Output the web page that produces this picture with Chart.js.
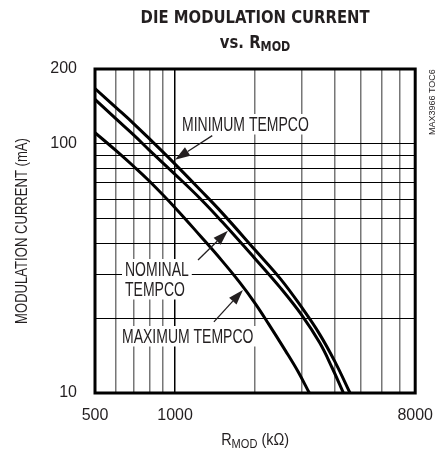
<!DOCTYPE html>
<html>
<head>
<meta charset="utf-8">
<title>Die modulation current vs. RMOD</title>
<script src="https://cdn.jsdelivr.net/npm/chart.js@4.4.0/dist/chart.umd.min.js"></script>
<style>
    html, body { margin: 0; padding: 0; background: #fff; }
    canvas { display: block; }
</style>
</head>
<body>
<canvas id="myChart" width="446" height="457"></canvas>
<script>
// Datos: R_MOD (kOhm) y corriente de modulación (mA)
const rMinimum = [500, 600, 700, 800, 1000, 1250, 1500, 2000, 2500, 3000, 3500, 4000, 4550];
const iMinimum = [167, 140, 120.5, 105, 83, 65, 53, 37.5, 28.6, 22, 17.2, 13.3, 10];

const rNominal = [500, 600, 700, 800, 1000, 1250, 1500, 2000, 2500, 3000, 3500, 3900, 4300];
const iNominal = [151, 126, 108.5, 94.5, 75.5, 60, 48.8, 34.6, 26.3, 20.5, 15.9, 12.6, 10];

const rMaximum = [500, 600, 700, 800, 1000, 1250, 1500, 1750, 2000, 2250, 2600, 2900, 3200];
const iMaximum = [111, 94, 81.2, 71, 55.5, 42.5, 34, 27.8, 22.9, 18.9, 14.8, 12.2, 10];

// Líneas de la cuadrícula y etiquetas de los ejes
const xGridTicks = [500, 600, 700, 800, 900, 1000, 2000, 3000, 4000, 5000, 6000, 7000, 8000];
const xLabelTicks = [500, 1000, 8000];
const yGridTicks = [10, 20, 30, 40, 50, 60, 70, 80, 90, 100, 200];
const yLabelTicks = [10, 100, 200];

const curveNames = ["MINIMUM TEMPCO", "NOMINAL TEMPCO", "MAXIMUM TEMPCO"];

const FONT = '"Liberation Sans", Arial, sans-serif';
const TITLE_FONT = '"DejaVu Sans", "Liberation Sans", sans-serif';
const INK = "#231f20";

// Flechas de las etiquetas (coordenadas de datos: desde -> punta)
const arrows = [
    { from: [1380, 108], to: [1000, 86.5] },
    { from: [1220, 34.2], to: [1580, 44.8] },
    { from: [1400, 19.3], to: [1800, 25.9] }
];

function fontOf(r) {
    return (r.bold ? "bold " : "") + r.size + "px " + (r.family || FONT);
}

function measureRuns(ctx, runs) {
    let total = 0;
    runs.forEach(r => {
        ctx.font = fontOf(r);
        total += ctx.measureText(r.text).width;
    });
    return total;
}

// Escribe varios tramos de texto (con subíndices) comprimidos horizontalmente
function drawRuns(ctx, runs, x, y, squeeze, align) {
    const total = measureRuns(ctx, runs) * squeeze;
    let cx = align === "center" ? x - total / 2 : x;
    runs.forEach(r => {
        ctx.font = fontOf(r);
        const w = ctx.measureText(r.text).width;
        ctx.save();
        ctx.translate(cx, y + (r.dy || 0));
        ctx.scale(squeeze, 1);
        ctx.fillText(r.text, 0, 0);
        ctx.restore();
        cx += w * squeeze;
    });
    return total;
}

function drawArrow(ctx, x1, y1, x2, y2) {
    const ang = Math.atan2(y2 - y1, x2 - x1);
    const L = 15, W = 5;
    const bx = x2 - L * Math.cos(ang);
    const by = y2 - L * Math.sin(ang);
    ctx.beginPath();
    ctx.moveTo(x1, y1);
    ctx.lineTo(bx, by);
    ctx.lineWidth = 1.3;
    ctx.stroke();
    ctx.beginPath();
    ctx.moveTo(x2, y2);
    ctx.lineTo(bx - W * Math.sin(ang), by + W * Math.cos(ang));
    ctx.lineTo(bx + W * Math.sin(ang), by - W * Math.cos(ang));
    ctx.closePath();
    ctx.fill();
}

// Marco, flechas, etiquetas de curvas, títulos
const decorPlugin = {
    id: "decor",
    afterDatasetsDraw(chart) {
        const { ctx, chartArea: a, scales } = chart;
        ctx.save();
        ctx.strokeStyle = "#000";
        ctx.lineWidth = 3;
        ctx.strokeRect(a.left, a.top, a.right - a.left, a.bottom - a.top);

        ctx.fillStyle = INK;
        ctx.strokeStyle = INK;
        arrows.forEach(ar => {
            drawArrow(ctx,
                scales.x.getPixelForValue(ar.from[0]), scales.y.getPixelForValue(ar.from[1]),
                scales.x.getPixelForValue(ar.to[0]), scales.y.getPixelForValue(ar.to[1]));
        });

        // etiquetas con fondo blanco
        const notes = [
            { text: curveNames[0], x: 182, base: 131 },
            { text: curveNames[1].split(" ")[0], x: 125, base: 276 },
            { text: curveNames[1].split(" ")[1], x: 125, base: 296 },
            { text: curveNames[2], x: 122, base: 343 }
        ];
        notes.forEach(n => {
            ctx.font = "20px " + FONT;
            const w = ctx.measureText(n.text).width * 0.7;
            ctx.fillStyle = "#fff";
            ctx.fillRect(n.x - 3, n.base - 17, w + 6, 20.5);
            ctx.fillStyle = INK;
            drawRuns(ctx, [{ text: n.text, size: 20 }], n.x, n.base, 0.7, "left");
        });
        ctx.restore();
    },
    afterDraw(chart) {
        const { ctx, chartArea: a } = chart;
        const mid = (a.left + a.right) / 2;
        ctx.save();
        ctx.fillStyle = INK;
        ctx.textBaseline = "alphabetic";

        // título en negrita condensada, ajustado al ancho del original
        const line1 = [{ text: "DIE MODULATION CURRENT", size: 18, bold: true, family: TITLE_FONT }];
        const squeeze = 229 / measureRuns(ctx, line1);
        drawRuns(ctx, line1, mid, 23, squeeze, "center");
        drawRuns(ctx, [
            { text: "vs. R", size: 18, bold: true, family: TITLE_FONT },
            { text: "MOD", size: 13.5, bold: true, family: TITLE_FONT, dy: 3 }
        ], mid, 47.5, squeeze, "center");

        drawRuns(ctx, [
            { text: "R", size: 17 },
            { text: "MOD", size: 13, dy: 3 },
            { text: " (k\u03A9)", size: 17 }
        ], mid, 445, 0.85, "center");

        ctx.save();
        ctx.translate(21, (a.top + a.bottom) / 2);
        ctx.rotate(-Math.PI / 2);
        drawRuns(ctx, [{ text: "MODULATION CURRENT (mA)", size: 17 }], 0, 6, 0.77, "center");
        ctx.restore();

        ctx.save();
        ctx.translate(435, 135);
        ctx.rotate(-Math.PI / 2);
        drawRuns(ctx, [{ text: "MAX3966 TOC6", size: 9 }], 0, 0, 1, "left");
        ctx.restore();

        ctx.restore();
    }
};

function toPoints(xs, ys) {
    return xs.map((x, i) => ({ x: x, y: ys[i] }));
}

function curve(label, xs, ys) {
    return {
        label: label,
        data: toPoints(xs, ys),
        borderColor: "#000",
        borderWidth: 3,
        pointRadius: 0,
        fill: false,
        tension: 0.4
    };
}

document.addEventListener("DOMContentLoaded", function() {
    const ctx = document.getElementById("myChart");

    new Chart(ctx.getContext("2d"), {
        type: "line",
        data: {
            datasets: [
                curve(curveNames[0], rMinimum, iMinimum),
                curve(curveNames[1], rNominal, iNominal),
                curve(curveNames[2], rMaximum, iMaximum)
            ]
        },
        options: {
            responsive: false,
            animation: false,
            events: [],
            layout: { padding: { top: 69, right: 25, left: 0, bottom: 0 } },
            plugins: {
                legend: { display: false },
                tooltip: { enabled: false },
                title: { display: false }
            },
            scales: {
                x: {
                    type: "logarithmic",
                    min: 500,
                    max: 8000,
                    afterBuildTicks: s => { s.ticks = xGridTicks.map(v => ({ value: v })); },
                    afterFit: s => { s.height = 64; },
                    border: { display: false },
                    grid: {
                        drawTicks: false,
                        color: c => (c.tick && c.tick.value === 1000) ? "#000" : "#777",
                        lineWidth: 1.5
                    },
                    ticks: {
                        autoSkip: false,
                        maxRotation: 0,
                        padding: 13,
                        color: INK,
                        font: { family: FONT, size: 16 },
                        callback: v => xLabelTicks.includes(v) ? String(v) : ""
                    }
                },
                y: {
                    type: "logarithmic",
                    min: 10,
                    max: 200,
                    afterBuildTicks: s => { s.ticks = yGridTicks.map(v => ({ value: v })); },
                    afterFit: s => { s.width = 95; },
                    border: { display: false },
                    grid: {
                        drawTicks: false,
                        color: "#000",
                        lineWidth: 1
                    },
                    ticks: {
                        autoSkip: false,
                        padding: 18,
                        color: INK,
                        font: { family: FONT, size: 16 },
                        callback: v => yLabelTicks.includes(v) ? String(v) : ""
                    }
                }
            }
        },
        plugins: [decorPlugin]
    });
});
</script>
</body>
</html>
